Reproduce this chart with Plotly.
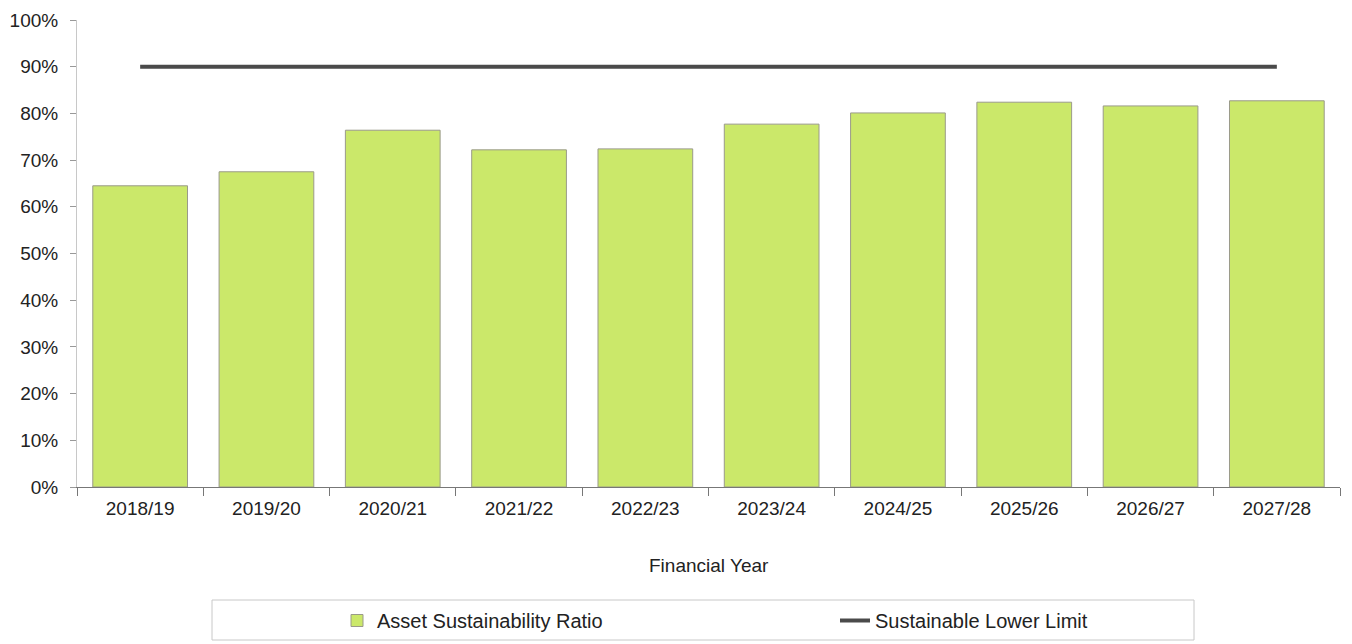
import plotly.graph_objects as go

years = ["2018/19", "2019/20", "2020/21", "2021/22", "2022/23",
         "2023/24", "2024/25", "2025/26", "2026/27", "2027/28"]
asr = [64.5, 67.5, 76.4, 72.2, 72.4, 77.7, 80.1, 82.4, 81.6, 82.7]
lower_limit = [90] * len(years)

font = "Liberation Sans, Arial, sans-serif"

# page body adds an 8px offset; layout numbers below are in figure pixels
OFF = 8
W, H = 1352, 644
L, T = 77 - OFF, 20 - OFF
R = W - (1340 - OFF)
B = H - (487 - OFF)
pw, ph = W - L - R, H - T - B

def px_x(x):
    return (x - OFF - L) / pw

def px_y(y):
    return (H - B - (y - OFF)) / ph

fig = go.Figure()
fig.add_trace(go.Bar(
    x=years, y=asr, name="Asset Sustainability Ratio",
    marker=dict(color="#cbe86a", line=dict(color="#9a9a8a", width=1)),
    width=0.75,
))
fig.add_trace(go.Scatter(
    x=years, y=lower_limit, name="Sustainable Lower Limit", mode="lines",
    line=dict(color="#4a4a4a", width=4),
))

fig.update_layout(
    width=W, height=H,
    margin=dict(l=L, r=R, t=T, b=B, autoexpand=False),
    paper_bgcolor="white", plot_bgcolor="white",
    font=dict(family=font, size=19, color="#222"),
    showlegend=True,
    legend=dict(
        orientation="h", x=px_x(337), xanchor="left", y=px_y(601), yanchor="top",
        borderwidth=0, bgcolor="rgba(0,0,0,0)",
        font=dict(family=font, size=20, color="#222"),
        entrywidth=453, itemwidth=30, traceorder="normal",
    ),
    shapes=[dict(
        type="rect", xref="paper", yref="paper",
        x0=px_x(212), x1=px_x(1194), y0=px_y(600), y1=px_y(640),
        line=dict(color="#c8c8c8", width=1), fillcolor="rgba(0,0,0,0)",
        layer="below",
    )],
    annotations=[dict(
        text="Financial Year", xref="paper", yref="paper",
        x=0.5, y=px_y(565), xanchor="center", yanchor="middle",
        showarrow=False, font=dict(family=font, size=19, color="#222"),
    )],
    bargap=0.25,
)
fig.update_xaxes(
    type="category", tickson="boundaries", ticks="outside", ticklen=8,
    tickcolor="#777", showline=True, linecolor="#777", linewidth=1,
    showgrid=False, automargin=False, ticklabelstandoff=4,
    tickfont=dict(size=19),
)
fig.update_yaxes(
    range=[0, 100], dtick=10, ticksuffix="%", ticks="outside", ticklen=6,
    tickcolor="#999", showline=True, linecolor="#c8c8c8", linewidth=1,
    showgrid=False, zeroline=False, automargin=False, ticklabelstandoff=8,
    tickfont=dict(size=19),
)

fig.write_html("out.html")
